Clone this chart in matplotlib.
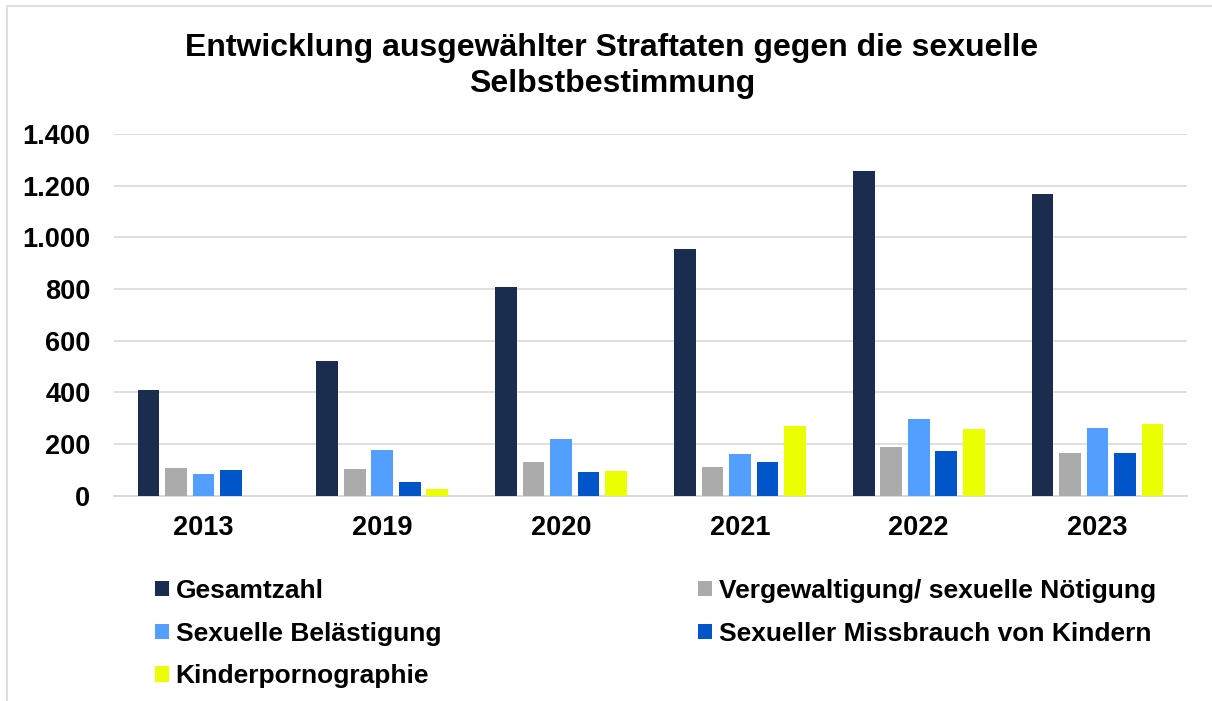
import matplotlib
matplotlib.use("Agg")
import matplotlib.pyplot as plt
from matplotlib.ticker import FuncFormatter, MultipleLocator
from matplotlib.patches import Rectangle
import numpy as np

plt.rcParams['font.family'] = ['Liberation Sans', 'DejaVu Sans']

years = ["2013", "2019", "2020", "2021", "2022", "2023"]
series_names = ["Gesamtzahl", "Vergewaltigung/ sexuelle Nötigung", "Sexuelle Belästigung",
                "Sexueller Missbrauch von Kindern", "Kinderpornographie"]
gesamtzahl = [410, 521, 806, 953, 1257, 1167]
vergewaltigung = [108, 104, 129, 111, 190, 164]
belaestigung = [83, 177, 218, 160, 297, 262]
missbrauch = [99, 53, 92, 129, 174, 164]
kinderpornographie = [0, 25, 94, 268, 257, 279]
colors = ["#1B2D4E", "#ABABAB", "#539FFF", "#0056C9", "#EAFF00"]

series = [gesamtzahl, vergewaltigung, belaestigung, missbrauch, kinderpornographie]

W, H = 1212, 701
fig = plt.figure(figsize=(W / 100, H / 100), dpi=100)
ax = fig.add_axes([114 / W, 1 - 495.7 / H, (1187 - 114) / W, (495.7 - 133.8) / H])

x = np.arange(len(years))
pitch = 0.1538
bw = 0.121
handles = []
for i, (vals, c, name) in enumerate(zip(series, colors, series_names)):
    offs = (i - 2) * pitch
    b = ax.bar(x + offs, vals, width=bw, color=c, label=name, zorder=3)
    handles.append(b)

ax.set_xlim(-0.5, len(years) - 0.5)
ax.set_ylim(0, 1400)
ax.yaxis.set_major_locator(MultipleLocator(200))
ax.yaxis.set_major_formatter(FuncFormatter(lambda v, p: f"{int(v):,}".replace(",", ".")))
ax.set_xticks(x)
ax.set_xticklabels(years)
ax.grid(axis='y', color='#D9D9D9', linewidth=1.2, zorder=0)
ax.set_axisbelow(True)
for s in ['top', 'right', 'left']:
    ax.spines[s].set_visible(False)
ax.spines['bottom'].set_color('#D9D9D9')
ax.spines['bottom'].set_linewidth(1.4)
ax.tick_params(axis='both', length=0, labelsize=19.5)
ax.tick_params(axis='y', pad=17)
ax.tick_params(axis='x', pad=14)
for lab in ax.get_xticklabels() + ax.get_yticklabels():
    lab.set_fontweight('bold')

fig.text(612 / W, 1 - 66 / H,
         "Entwicklung ausgewählter Straftaten gegen die sexuelle\nSelbstbestimmung",
         ha='center', va='center', fontsize=23, fontweight='bold', linespacing=1.22)

order = [0, 2, 4, 1, 3]
leg = fig.legend([handles[i] for i in order], [series_names[i] for i in order],
                 ncol=2, loc='upper left', bbox_to_anchor=(155 / W, 1 - 579 / H),
                 frameon=False, borderpad=0, borderaxespad=0,
                 handlelength=0.53, handleheight=0.53, handletextpad=0.25,
                 labelspacing=0.71, columnspacing=9.74,
                 prop={'size': 19, 'weight': 'bold'})

fig.patches.append(Rectangle((7 / W, -0.05), 1.2, 1 - 6 / H + 0.05, transform=fig.transFigure,
                             fill=False, edgecolor='#D9D9D9', linewidth=1.2))

fig.savefig("out.png", dpi=100)
